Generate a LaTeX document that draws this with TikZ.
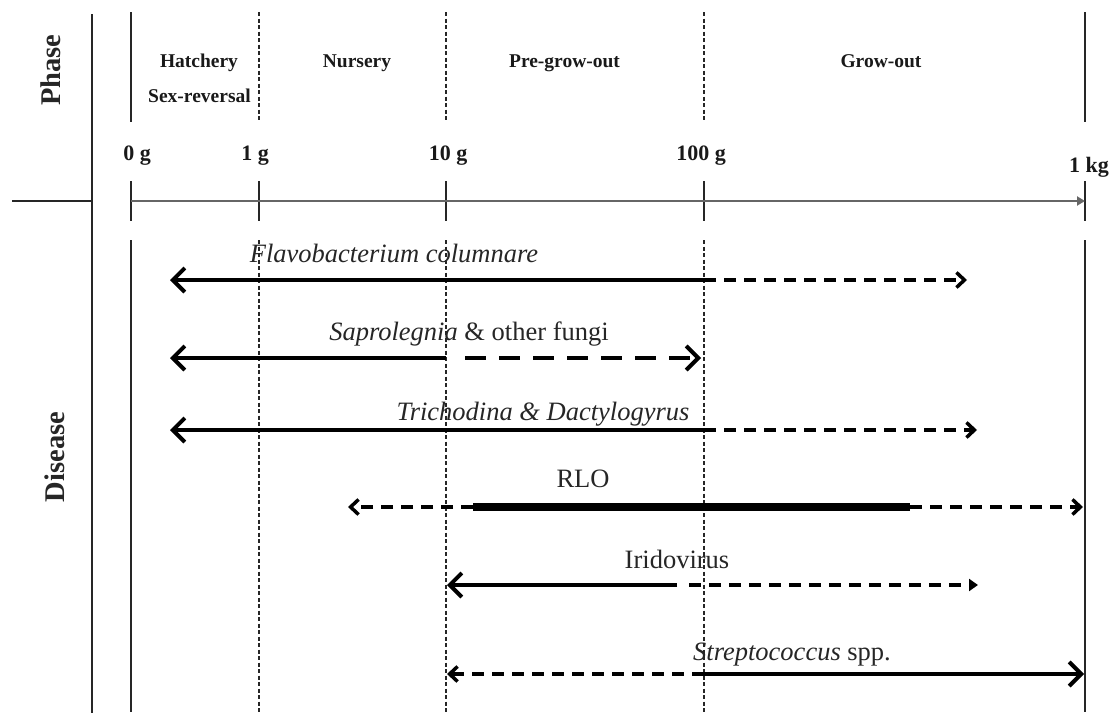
\documentclass[tikz,border=0pt]{standalone}
\usepackage{fontspec}
\setmainfont{Liberation Serif}
\usetikzlibrary{arrows.meta}
\begin{document}
\begin{tikzpicture}[x=1pt,y=-1pt,
  vsolid/.style={line width=2pt, draw=black!85},
  vdash/.style={line width=1.8pt, draw=black!85, dash pattern=on 4pt off 2.5pt},
  sidelbl/.style={font=\fontsize{28.5}{30}\selectfont\bfseries, rotate=90, inner sep=0pt, text=black!85},
  phaselbl/.style={font=\fontsize{19.5}{22}\selectfont\bfseries, inner sep=0pt, anchor=base, text=black!90},
  ticklbl/.style={font=\fontsize{22}{24}\selectfont\bfseries, inner sep=0pt, anchor=base, text=black!90},
  dislbl/.style={font=\fontsize{26.5}{30}\selectfont, inner sep=0pt, anchor=base, text=black!85},
  solidln/.style={line width=3.5pt},
  thickln/.style={line width=8pt},
  dashln/.style={line width=3.5pt, dash pattern=on 12pt off 8pt},
  bigdashln/.style={line width=4.5pt, dash pattern=on 21pt off 13pt},
  bigbarb/.style={-{Straight Barb[length=12pt,width=24pt,line width=4pt]}},
  smallbarb/.style={-{Straight Barb[length=8pt,width=15pt,line width=3.5pt]}},
  smalltri/.style={-{Triangle[length=9pt,width=12pt]}}
]
\path[use as bounding box] (0,0) rectangle (1112,715);

% frame lines
\coordinate (lt) at (92,14);
\coordinate (lb) at (92,713);
\coordinate (hl) at (12,201);
\coordinate (hr) at (92,201);
\draw[vsolid] (lt) -- (lb);
\draw[vsolid] (hl) -- (hr);

% side labels
\node[sidelbl] (phase) at (51,70) {Phase};
\node[sidelbl] (disease) at (55,457) {Disease};

% vertical lines
\foreach \n/\x/\s in {a/131/vsolid, b/259/vdash, c/446/vdash, d/704/vdash, e/1085/vsolid}{
  \coordinate (\n1) at (\x,12);
  \coordinate (\n2) at (\x,122);
  \coordinate (\n3) at (\x,181);
  \coordinate (\n4) at (\x,221);
  \coordinate (\n5) at (\x,240);
  \coordinate (\n6) at (\x,712);
  \draw[\s] (\n1) -- (\n2);
  \draw[vsolid] (\n3) -- (\n4);
  \draw[\s] (\n5) -- (\n6);
}

% axis
\coordinate (ax0) at (131,201);
\coordinate (ax1) at (1085,201);
\draw[line width=2.8pt, draw=black!60, -{Triangle[length=8pt,width=9pt]}] (ax0) -- (ax1);

% phase labels
\node[phaselbl] (hatch) at (199,67) {Hatchery};
\node[phaselbl] (sexrev) at (199.5,102) {Sex-reversal};
\node[phaselbl] (nurs) at (357,67) {Nursery};
\node[phaselbl] (pregrow) at (564.5,67) {Pre-grow-out};
\node[phaselbl] (grow) at (881,67) {Grow-out};

% tick labels
\node[ticklbl] (t0) at (137,160) {0 g};
\node[ticklbl] (t1) at (255,160) {1 g};
\node[ticklbl] (t10) at (448,160) {10 g};
\node[ticklbl] (t100) at (701,160) {100 g};
\node[ticklbl] (t1k) at (1089,172) {1 kg};

% disease labels
\node[dislbl] (flavo) at (394,262) {\textit{Flavobacterium columnare}};
\node[dislbl] (sapro) at (469,340) {\textit{Saprolegnia} \& other fungi};
\node[dislbl] (trich) at (543,420) {\textit{Trichodina \& Dactylogyrus}};
\node[dislbl] (rlo) at (583,487) {RLO};
\node[dislbl] (irido) at (677,568) {Iridovirus};
\node[dislbl] (strep) at (792,660) {\textit{Streptococcus} spp.};

% Flavobacterium
\coordinate (f0) at (170,280);
\coordinate (f1) at (704,280);
\coordinate (f2) at (967,280);
\draw[solidln, bigbarb] (f1) -- (f0);
\draw[dashln, smallbarb] (f1) -- (f2);

% Saprolegnia
\coordinate (s0) at (170,358);
\coordinate (s1) at (446,358);
\coordinate (s1b) at (465,358);
\coordinate (s2) at (701,358);
\draw[solidln, bigbarb] (s1) -- (s0);
\draw[bigdashln, bigbarb] (s1b) -- (s2);

% Trichodina
\coordinate (r0) at (170,430);
\coordinate (r1) at (704,430);
\coordinate (r2) at (977,430);
\draw[solidln, bigbarb] (r1) -- (r0);
\draw[dashln, smallbarb] (r1) -- (r2);

% RLO
\coordinate (l0) at (348,507);
\coordinate (l1) at (473,507);
\coordinate (l2) at (910,507);
\coordinate (l3) at (1083,507);
\draw[dashln, smallbarb] (l1) -- (l0);
\draw[thickln] (l1) -- (l2);
\draw[dashln, smallbarb] (l2) -- (l3);

% Iridovirus
\coordinate (i0) at (447,585);
\coordinate (i1) at (677,585);
\coordinate (i1b) at (689,585);
\coordinate (i2) at (978,585);
\draw[solidln, bigbarb] (i1) -- (i0);
\draw[dashln, smalltri] (i1b) -- (i2);

% Streptococcus
\coordinate (p0) at (447,674);
\coordinate (p1) at (704,674);
\coordinate (p2) at (1084,674);
\draw[dashln, smallbarb] (p1) -- (p0);
\draw[solidln, bigbarb] (p1) -- (p2);
\end{tikzpicture}
\end{document}
